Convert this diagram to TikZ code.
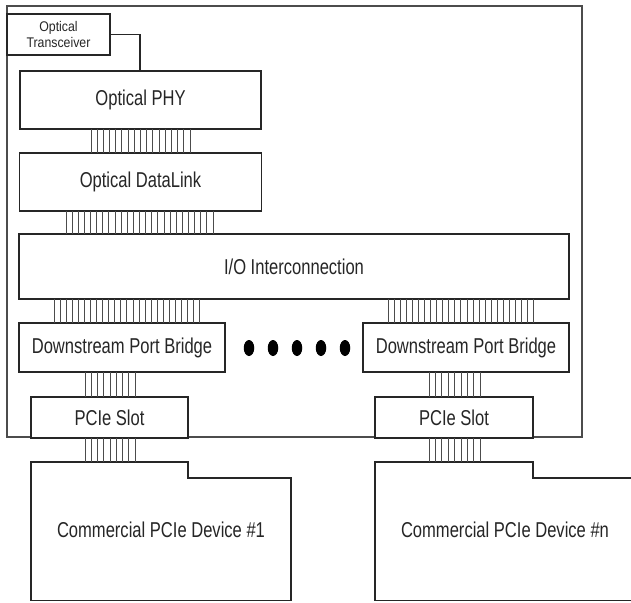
\documentclass[tikz,border=0pt]{standalone}
\usepackage{fontspec}
\setmainfont[FakeStretch=0.77]{Liberation Sans}
\newfontfamily\smallfnt[FakeStretch=0.88]{Liberation Sans}
\usetikzlibrary{calc}
\tikzset{
  blk/.style={draw=black!85, line width=1.5pt, fill=white, inner sep=0pt, outer sep=0pt,
    font=\fontsize{21.5}{25}\selectfont, text=black!85},
  smallblk/.style={blk, font=\smallfnt\fontsize{14}{15.5}\selectfont, align=center},
  frame/.style={draw=black!70, line width=1.6pt, inner sep=0pt, outer sep=0pt},
  busline/.style={draw=black!70, line width=1pt},
  dot/.style={ellipse, fill=black, inner sep=0pt, minimum width=10.5pt, minimum height=16pt},
  devtext/.style={font=\fontsize{21.5}{25}\selectfont, text=black!85, inner sep=0pt},
  wire/.style={draw=black!85, line width=1.5pt}
}
\usetikzlibrary{shapes.geometric}
\begin{document}
\begin{tikzpicture}[x=1pt,y=-1pt]
\useasboundingbox (0,0) rectangle (631,602);
\clip (0,0) rectangle (631,602);
% outer frame
\node[frame, minimum width=575pt, minimum height=431pt] (outer) at (294.5,221.5) {};
% blocks
\node[smallblk, minimum width=103pt, minimum height=41pt] (trans) at (58.5,34.5) {Optical\\Transceiver};
\node[blk, minimum width=241pt, minimum height=58pt] (phy) at (140.5,100) {Optical PHY};
\node[blk, minimum width=242pt, minimum height=58pt] (dl) at (140.5,182) {Optical DataLink};
\node[blk, minimum width=550pt, minimum height=65pt] (io) at (294,266.5) {I/O Interconnection};
\node[blk, minimum width=206pt, minimum height=49pt] (dpbA) at (122,347.5) {Downstream Port Bridge};
\node[blk, minimum width=206pt, minimum height=49pt] (dpbB) at (466,347.5) {Downstream Port Bridge};
\node[blk, minimum width=157pt, minimum height=41pt] (slotA) at (109.5,417.5) {PCIe Slot};
\node[blk, minimum width=158pt, minimum height=41pt] (slotB) at (454,417.5) {PCIe Slot};
% dots
\foreach \k in {0,...,4} \node[dot] (d\k) at ({249+24*\k},348) {};
% devices
\draw[wire, fill=white] (31,462) -- (188,462) -- (188,478) -- (291,478) -- (291,600.5) -- (31,600.5) -- cycle;
\draw[wire, fill=white] (375,462) -- (533,462) -- (533,478) -- (645,478) -- (645,600.5) -- (375,600.5) -- cycle;
\coordinate (devAtop) at (110,462);
\coordinate (devBtop) at (454,462);
\node[devtext] (devA) at (161,530) {Commercial PCIe Device \#1};
\node[devtext] (devB) at (505,530) {Commercial PCIe Device \#n};
% transceiver wire
\draw[wire] (trans.east) -| (140,0 |- phy.north);
% buses
\foreach \i in {0,...,16} \draw[busline] ({91+\i*6.19},0 |- phy.south) -- ({91+\i*6.19},0 |- dl.north);
\foreach \i in {0,...,24} \draw[busline] ({66+\i*6.125},0 |- dl.south) -- ({66+\i*6.125},0 |- io.north);
\foreach \i in {0,...,24} \draw[busline] ({54+\i*6.08},0 |- io.south) -- ({54+\i*6.08},0 |- dpbA.north);
\foreach \i in {0,...,24} \draw[busline] ({388+\i*6.08},0 |- io.south) -- ({388+\i*6.08},0 |- dpbB.north);
\foreach \i in {0,...,8} \draw[busline] ({85+\i*6.25},0 |- dpbA.south) -- ({85+\i*6.25},0 |- slotA.north);
\foreach \i in {0,...,8} \draw[busline] ({429+\i*6.4},0 |- dpbB.south) -- ({429+\i*6.4},0 |- slotB.north);
\foreach \i in {0,...,8} \draw[busline] ({85+\i*6.25},0 |- slotA.south) -- ({85+\i*6.25},0 |- devAtop);
\foreach \i in {0,...,8} \draw[busline] ({429+\i*6.4},0 |- slotB.south) -- ({429+\i*6.4},0 |- devBtop);
\end{tikzpicture}
\end{document}
